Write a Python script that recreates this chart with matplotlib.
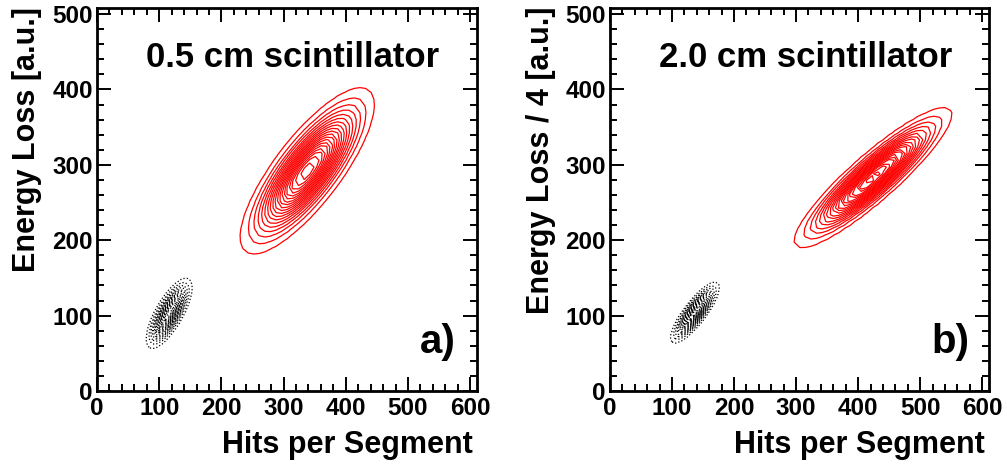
import numpy as np
import matplotlib
matplotlib.use("Agg")
import matplotlib.pyplot as plt
from matplotlib.ticker import MultipleLocator

plt.rcParams['font.family'] = ['Liberation Sans', 'DejaVu Sans']
plt.rcParams['font.weight'] = 'bold'

# ---- data: fitted peak parameters ----
# (center_x, center_y, sigma_x, sigma_y, correlation)
red_peak_a = [338, 292, 44, 45, 0.80]
black_peak_a = [116, 103, 15, 19, 0.74]
red_peak_b = [424, 283, 52, 38, 0.905]
black_peak_b = [137, 104, 16, 16.5, 0.83]

panel_titles = ["0.5 cm scintillator", "2.0 cm scintillator"]
panel_tags = ["a)", "b)"]
y_labels = ["Energy Loss [a.u.]", "Energy Loss / 4 [a.u.]"]
x_label = "Hits per Segment"
n_levels = 20
x_range = [0, 611]
y_range = [0, 508]
x_major_ticks = [0, 100, 200, 300, 400, 500, 600]
y_major_ticks = [0, 100, 200, 300, 400, 500]


def density(peak, bin_w):
    cx, cy, sx, sy, rho = peak
    xs = np.arange(x_range[0], x_range[1] + bin_w, bin_w)
    ys = np.arange(y_range[0], y_range[1] + bin_w, bin_w)
    X, Y = np.meshgrid(xs, ys)
    u = (X - cx) / sx
    v = (Y - cy) / sy
    z = np.exp(-(u * u - 2 * rho * u * v + v * v) / (2 * (1 - rho * rho)))
    return X, Y, z


fig = plt.figure(figsize=(10.07, 4.66), dpi=100)
W, H = 1007.0, 466.0
axes_px = [(97, 391, 380, 383), (610, 391, 379, 383)]
title_x = [0.514, 0.517]
tag_x = [0.943, 0.948]

panels = [(red_peak_a, black_peak_a), (red_peak_b, black_peak_b)]

for i, (l, b, w, h) in enumerate(axes_px):
    ax = fig.add_axes([l / W, (H - b) / H, w / W, h / H])
    red, black = panels[i]
    X, Y, Z = density(red, 9)
    levels = [k / n_levels for k in range(1, n_levels)]
    ax.contour(X, Y, Z, levels=levels, colors='#ff0000', linewidths=0.9)
    X, Y, Z = density(black, 5)
    ax.contour(X, Y, Z, levels=levels, colors='black', linewidths=0.9,
               linestyles=':')

    ax.set_xlim(*x_range)
    ax.set_ylim(*y_range)
    ax.set_xticks(x_major_ticks)
    ax.set_yticks(y_major_ticks)
    ax.xaxis.set_minor_locator(MultipleLocator(20))
    ax.yaxis.set_minor_locator(MultipleLocator(20))
    ax.tick_params(which='both', direction='in', top=True, right=True,
                   labelsize=17.5, width=1.4)
    ax.tick_params(which='major', length=10)
    ax.tick_params(which='minor', length=5)
    ax.tick_params(axis='x', which='major', pad=4)
    ax.tick_params(axis='y', which='major', pad=3)
    for lab in ax.get_xticklabels() + ax.get_yticklabels():
        lab.set_fontweight('bold')
    for s in ax.spines.values():
        s.set_linewidth(2)

    ax.text(0.99, -0.162, x_label, transform=ax.transAxes, ha='right',
            va='baseline', fontsize=22, fontweight='bold')
    ax.text(-0.162, 1.003, y_labels[i], transform=ax.transAxes,
            rotation=90, rotation_mode='anchor', ha='right', va='baseline',
            fontsize=22, fontweight='bold')
    ax.text(title_x[i], 0.872, panel_titles[i], transform=ax.transAxes,
            ha='center', va='center', fontsize=25, fontweight='bold')
    ax.text(tag_x[i], 0.128, panel_tags[i], transform=ax.transAxes,
            ha='right', va='center', fontsize=29, fontweight='bold')

fig.savefig("out.png", dpi=100)
